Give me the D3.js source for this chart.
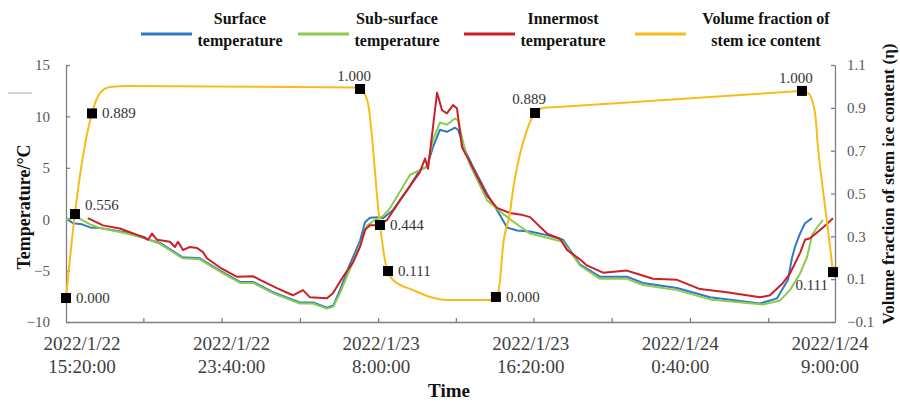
<!DOCTYPE html>
<html>
<head>
<meta charset="utf-8">
<script src="https://cdn.jsdelivr.net/npm/d3@7"></script>
<style>
  html, body { margin: 0; padding: 0; background: #fff; }
  svg { display: block; font-family: "Liberation Serif", "Times New Roman", serif; }
</style>
</head>
<body>
<svg id="chart" width="900" height="403"></svg>
<script>
// ---------------- DATA ----------------
// time offsets are hours after 2022/1/22 15:20:00
const surfaceTemp = [
  [-0.89, 0.1], [-0.5, -0.4], [0.0, -0.5], [0.45, -0.8], [1.0, -0.85], [2.5, -1.3], [3.5, -1.75], [3.7, -2.0],
  [4.35, -2.3], [5.6, -3.7], [6.57, -3.8], [7.69, -5.0], [8.8, -6.1], [9.53, -6.1], [10.64, -7.1], [12.14, -8.1],
  [12.87, -8.1], [13.65, -8.6], [14.0, -8.4], [14.37, -6.9], [14.9, -4.5], [15.49, -2.1], [15.77, -0.3], [16.04, 0.15],
  [16.49, 0.2], [16.77, 0.1], [17.33, 0.9], [18.11, 2.8], [18.83, 4.8], [19.22, 5.1], [19.55, 7.0], [19.94, 8.7],
  [20.33, 8.5], [20.78, 8.9], [20.95, 8.7], [21.34, 6.7], [21.78, 5.1], [22.56, 2.5], [23.12, 0.9], [23.68, -0.8],
  [24.23, -1.1], [24.96, -1.2], [25.91, -1.55], [26.8, -2.0], [27.74, -4.4], [28.86, -5.6], [30.36, -5.6], [31.25, -6.2],
  [33.15, -6.7], [34.99, -7.6], [37.77, -8.2], [38.72, -7.7], [39.33, -5.9], [39.55, -3.8], [39.72, -2.7], [40.0, -1.4],
  [40.28, -0.4], [40.67, 0.1]
];
const subSurfaceTemp = [
  [-0.89, 0.0], [-0.28, 0.2], [0.45, -0.5], [1.0, -0.85], [2.5, -1.4], [3.5, -1.85], [4.35, -2.4], [5.6, -3.8],
  [6.57, -3.9], [7.69, -5.1], [8.8, -6.2], [9.53, -6.2], [10.64, -7.2], [12.14, -8.2], [12.87, -8.2], [13.65, -8.7],
  [14.0, -8.5], [14.37, -7.2], [14.9, -5.0], [15.49, -2.5], [15.9, -0.6], [16.3, -0.1], [16.77, 0.3], [17.16, 1.07],
  [18.27, 4.3], [18.83, 4.8], [19.22, 5.1], [19.55, 7.7], [19.94, 9.4], [20.33, 9.2], [20.78, 9.8], [20.95, 9.6],
  [21.34, 6.7], [21.62, 5.3], [22.56, 1.85], [23.4, 0.6], [24.0, -0.2], [24.96, -1.4], [25.91, -1.8], [26.8, -2.2],
  [27.74, -4.5], [28.86, -5.8], [30.36, -5.8], [31.25, -6.4], [33.15, -6.9], [34.99, -7.8], [37.94, -8.3], [38.89, -7.9],
  [39.44, -6.9], [40.0, -5.3], [40.39, -3.7], [40.67, -1.55], [40.95, -0.8], [41.28, -0.1]
];
const innermostTemp = [
  [0.33, 0.1], [1.17, -0.6], [2.12, -0.9], [3.4, -1.75], [3.68, -2.0], [3.9, -1.4], [4.18, -2.0], [4.9, -2.2],
  [5.18, -2.7], [5.35, -2.2], [5.63, -3.0], [6.02, -2.7], [6.41, -2.8], [6.74, -3.2], [6.96, -3.8], [7.69, -4.7],
  [8.64, -5.6], [9.53, -5.55], [9.92, -5.9], [10.86, -6.7], [11.75, -7.4], [12.31, -6.9], [12.7, -7.6], [13.65, -7.7],
  [13.98, -7.2], [14.54, -5.6], [15.1, -4.2], [15.49, -2.7], [15.77, -1.0], [16.04, -0.6], [16.49, -0.6], [16.99, -0.1],
  [17.72, 1.85], [18.83, 4.6], [19.11, 5.9], [19.28, 4.9], [19.55, 8.9], [19.78, 12.3], [20.06, 10.6], [20.33, 10.3],
  [20.67, 11.1], [20.89, 10.8], [21.17, 7.0], [21.62, 5.5], [22.56, 2.3], [23.12, 1.1], [23.84, 0.6], [24.57, 0.4],
  [24.96, 0.2], [25.91, -1.4], [26.63, -1.9], [27.02, -3.0], [27.74, -3.9], [28.13, -4.5], [29.03, -5.2], [30.36, -5.0],
  [30.92, -5.3], [31.81, -5.8], [33.15, -5.9], [34.43, -6.8], [35.93, -7.1], [37.77, -7.6], [38.33, -7.4], [39.05, -6.2],
  [39.44, -5.3], [40.0, -3.3], [40.28, -2.0], [40.56, -1.85], [40.95, -1.3], [41.28, -0.8], [41.84, 0.1]
];
const iceFraction = [
  [-0.89, 0.012], [-0.39, 0.409], [0.56, 0.876], [1.0, 0.969], [1.56, 0.997], [2.51, 1.002], [15.38, 0.995], [15.6, 0.983],
  [15.93, 0.923], [16.6, 0.353], [16.99, 0.143], [17.33, 0.096], [18.44, 0.049], [19.39, 0.017], [20.33, 0.003], [23.06, 0.003],
  [23.29, 0.096], [23.45, 0.25], [23.84, 0.409], [24.01, 0.516], [24.29, 0.642], [24.79, 0.796], [25.24, 0.876], [25.68, 0.899],
  [26.5, 0.9035], [30.0, 0.923], [35.0, 0.951], [39.0, 0.973],
  [40.11, 0.979], [40.45, 0.969], [40.84, 0.876], [41.0, 0.717], [41.28, 0.516], [41.56, 0.33], [41.84, 0.133]
];
const markerHours  = [-0.89, -0.39, 0.56, 15.49, 16.6, 17.05, 23.06, 25.24, 40.11, 41.84];
const markerValues = [0.012, 0.404, 0.874, 0.988, 0.353, 0.138, 0.017, 0.876, 0.979, 0.133];
const markerLabels = ["0.000", "0.556", "0.889", "1.000", "0.444", "0.111", "0.000", "0.889", "1.000", "0.111"];
const markerLabelSide = ["right", "upright", "right", "above", "right", "right", "right", "aboveleft", "above", "belowleft"];

const seriesNames = [["Surface", "temperature"], ["Sub-surface", "temperature"], ["Innermost", "temperature"], ["Volume fraction of", "stem ice content"]];
const tempTicks = [-10, -5, 0, 5, 10, 15];
const fracTicks = [-0.1, 0.1, 0.3, 0.5, 0.7, 0.9, 1.1];
const xLabelHours = [0, 8.3333, 16.6667, 25, 33.3333, 41.6667];
const xLabels = [["2022/1/22", "15:20:00"], ["2022/1/22", "23:40:00"], ["2022/1/23", "8:00:00"], ["2022/1/23", "16:20:00"], ["2022/1/24", "0:40:00"], ["2022/1/24", "9:00:00"]];
const xTickMarkHours = [3.42, 7.78, 12.14, 16.5, 20.83, 25.15, 29.51, 33.87, 38.23];

// ---------------- LAYOUT ----------------
(function () {
const colors = ["#2E7BC4", "#8CCB4E", "#CC1F26", "#F7BB1A"];
const pLeft = 66, pRight = 835, pTop = 65, pBottom = 322;
const t0 = new Date(2022, 0, 22, 15, 20, 0);
const toDate = h => new Date(t0.getTime() + h * 3600000);

const svg = d3.select("#chart");
const x = d3.scaleTime().domain([toDate(-0.89), toDate(41.95)]).range([pLeft, pRight]);
const yT = d3.scaleLinear().domain([-10, 15]).range([pBottom, pTop]);
const yV = d3.scaleLinear().domain([-0.1, 1.1]).range([pBottom, pTop]);

const axisColor = "#7f7f7f";
const tickTextColor = "#595959";

const gL = svg.append("g").attr("transform", `translate(${pLeft},0)`)
  .call(d3.axisLeft(yT).tickValues(tempTicks).tickSize(-4).tickSizeOuter(0).tickPadding(16));
const gR = svg.append("g").attr("transform", `translate(${pRight},0)`)
  .call(d3.axisRight(yV).tickValues(fracTicks).tickSize(-4).tickSizeOuter(0).tickPadding(12).tickFormat(d3.format(".1f")));
const gB = svg.append("g").attr("transform", `translate(0,${pBottom})`)
  .call(d3.axisBottom(x).tickValues(xTickMarkHours.map(toDate)).tickSize(-4).tickSizeOuter(0).tickFormat(""));

[gL, gR, gB].forEach(g => {
  g.selectAll("path.domain").attr("stroke", axisColor).attr("stroke-width", 1.3);
  g.selectAll(".tick line").attr("stroke", axisColor).attr("stroke-width", 1.3);
  g.selectAll(".tick text").attr("fill", tickTextColor).attr("font-size", 15)
    .attr("font-family", "Liberation Serif, serif");
});

const xl = svg.append("g").selectAll("text").data(xLabelHours).join("text")
  .attr("x", d => x(toDate(d)))
  .attr("text-anchor", "middle")
  .attr("fill", "#404040")
  .attr("font-size", 19);
xl.append("tspan").attr("x", d => x(toDate(d))).attr("y", 350).text((d, i) => xLabels[i][0]);
xl.append("tspan").attr("x", d => x(toDate(d))).attr("y", 373).text((d, i) => xLabels[i][1]);

svg.append("text").attr("x", 449).attr("y", 397).attr("text-anchor", "middle")
  .attr("font-weight", "bold").attr("font-size", 19).attr("fill", "#111").text("Time");
svg.append("text").attr("transform", "translate(30,207) rotate(-90)").attr("text-anchor", "middle")
  .attr("font-weight", "bold").attr("font-size", 18).attr("fill", "#111").text("Temperature/°C");
svg.append("text").attr("transform", "translate(894,184) rotate(-90)").attr("text-anchor", "middle")
  .attr("font-weight", "bold").attr("font-size", 17).attr("fill", "#111")
  .text("Volume fraction of stem ice content (η)");

svg.append("line").attr("x1", 8).attr("x2", 32).attr("y1", 93).attr("y2", 93)
  .attr("stroke", "#c8c8c8").attr("stroke-width", 1.5);

const lineT = d3.line().x(d => x(toDate(d[0]))).y(d => yT(d[1])).curve(d3.curveLinear);
const lineV = d3.line().x(d => x(toDate(d[0]))).y(d => yV(d[1])).curve(d3.curveMonotoneX);
const plot = svg.append("g");
[surfaceTemp, subSurfaceTemp, innermostTemp].forEach((s, i) => {
  plot.append("path").datum(s).attr("d", lineT).attr("fill", "none")
    .attr("stroke", colors[i]).attr("stroke-width", 2).attr("stroke-linejoin", "round");
});
plot.append("path").datum(iceFraction).attr("d", lineV).attr("fill", "none")
  .attr("stroke", colors[3]).attr("stroke-width", 2).attr("stroke-linejoin", "round");

const mk = markerHours.map((h, i) => ({ h, v: markerValues[i], label: markerLabels[i], side: markerLabelSide[i] }));
plot.selectAll("rect.mk").data(mk).join("rect").attr("class", "mk")
  .attr("x", d => x(toDate(d.h)) - 5).attr("y", d => yV(d.v) - 5)
  .attr("width", 10).attr("height", 10).attr("fill", "#000");
const offs = {
  right: [10, 5, "start"], upright: [10, -4, "start"], above: [-6, -8, "middle"],
  aboveleft: [-6, -9, "middle"], belowleft: [-5, 18, "end"]
};
plot.selectAll("text.ml").data(mk).join("text").attr("class", "ml")
  .attr("x", d => x(toDate(d.h)) + offs[d.side][0])
  .attr("y", d => yV(d.v) + offs[d.side][1])
  .attr("text-anchor", d => offs[d.side][2])
  .attr("font-size", 15).attr("fill", "#333")
  .text(d => d.label);

const legX = [141, 298, 464, 635];
const leg = svg.append("g");
seriesNames.forEach((nm, i) => {
  leg.append("line").attr("x1", legX[i]).attr("x2", legX[i] + 51).attr("y1", 34).attr("y2", 34)
    .attr("stroke", colors[i]).attr("stroke-width", 3);
  const cx = legX[i] + (i === 3 ? 131 : 99);
  const t = leg.append("text").attr("text-anchor", "middle").attr("font-weight", "bold")
    .attr("font-size", 16).attr("fill", "#111");
  t.append("tspan").attr("x", cx).attr("y", 24).text(nm[0]);
  t.append("tspan").attr("x", cx).attr("y", 46).text(nm[1]);
});
})();
</script>
</body>
</html>
